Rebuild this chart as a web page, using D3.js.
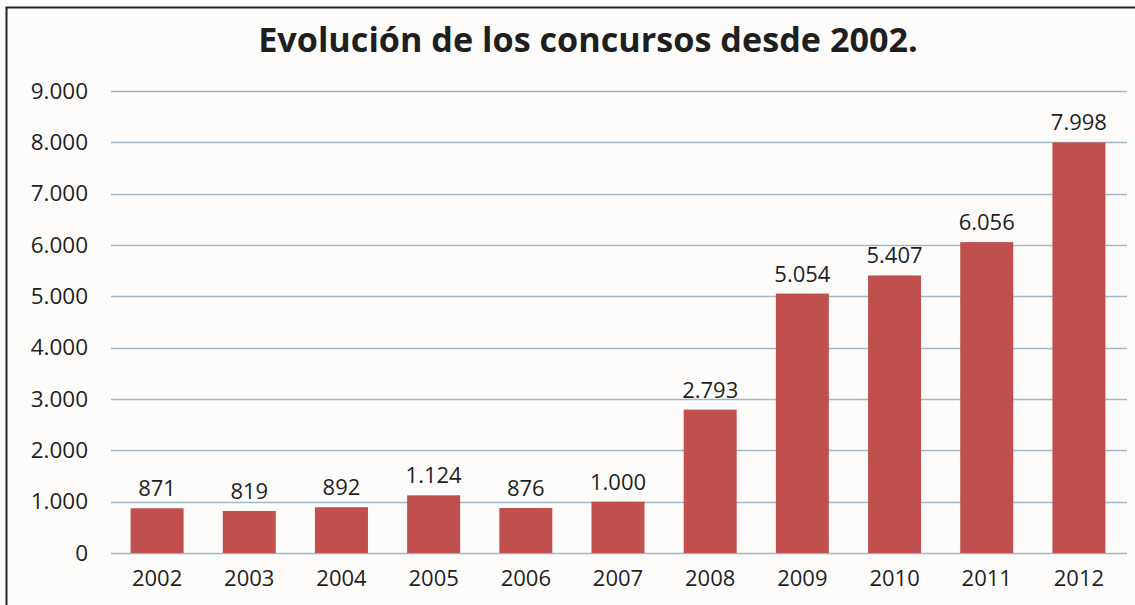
<!DOCTYPE html>
<html lang="es">
<head>
<meta charset="UTF-8">
<title>Evolución de los concursos desde 2002.</title>
<script src="https://d3js.org/d3.v7.min.js"></script>
<style>
    html, body { margin: 0; padding: 0; background: #fdfcfb; }
    svg { display: block; }
    text { font-family: "Open Sans", Arial, sans-serif; fill: #1f1f1f; }
</style>
</head>
<body>
<div id="chart"></div>
<script>
    const years = ["2002", "2003", "2004", "2005", "2006", "2007", "2008", "2009", "2010", "2011", "2012"];
    const concursos = [871, 819, 892, 1124, 876, 1000, 2793, 5054, 5407, 6056, 7998];
    const yTicks = [0, 1000, 2000, 3000, 4000, 5000, 6000, 7000, 8000, 9000];
    const title = "Evolución de los concursos desde 2002.";

    const width = 1135, height = 605;
    const margin = { top: 91, right: 10, bottom: 52, left: 111 };
    const fmt = d3.formatLocale({ decimal: ",", thousands: ".", grouping: [3], currency: ["", "€"] }).format(",d");

    const svg = d3.select("#chart").append("svg")
        .attr("width", width)
        .attr("height", height);

    svg.append("rect").attr("width", width).attr("height", height).attr("fill", "#fdfcfb");

    // marco (solo arriba e izquierda se ven)
    svg.append("path")
        .attr("d", `M6.5,${height} V7.5 H${width}`)
        .attr("fill", "none")
        .attr("stroke", "#222")
        .attr("stroke-width", 2);

    const x = d3.scaleBand()
        .domain(years)
        .range([margin.left, margin.left + 1014])
        .paddingInner(0.425)
        .paddingOuter(0.2125);

    const y = d3.scaleLinear()
        .domain([0, 9000])
        .range([553, margin.top]);

    // rejilla
    svg.append("g")
        .selectAll("line")
        .data(yTicks)
        .join("line")
        .attr("x1", margin.left)
        .attr("x2", margin.left + 1016)
        .attr("y1", d => Math.round(y(d)) + 0.5)
        .attr("y2", d => Math.round(y(d)) + 0.5)
        .attr("stroke", "#9fb8c8")
        .attr("stroke-width", 1.5);

    // eje Y
    const yAxis = svg.append("g")
        .attr("transform", `translate(${margin.left},0)`)
        .call(d3.axisLeft(y).tickValues(yTicks).tickFormat(fmt).tickSize(0).tickPadding(23));
    yAxis.select(".domain").remove();
    yAxis.selectAll("text")
        .style("font-family", "\"Open Sans\", Arial, sans-serif")
        .style("font-size", "22.5px")
        .attr("fill", "#222");

    // eje X
    const xAxis = svg.append("g")
        .attr("transform", `translate(0,553)`)
        .call(d3.axisBottom(x).tickSize(0).tickPadding(17));
    xAxis.select(".domain").remove();
    xAxis.selectAll("text")
        .style("font-family", "\"Open Sans\", Arial, sans-serif")
        .style("font-size", "22px")
        .attr("fill", "#222");

    // barras
    const data = years.map((yr, i) => ({ year: yr, value: concursos[i] }));
    svg.append("g")
        .selectAll("rect")
        .data(data)
        .join("rect")
        .attr("x", d => x(d.year))
        .attr("y", d => y(d.value))
        .attr("width", x.bandwidth())
        .attr("height", d => y(0) - y(d.value))
        .attr("fill", "#c0504d");

    // etiquetas de valor
    svg.append("g")
        .selectAll("text")
        .data(data)
        .join("text")
        .attr("x", d => x(d.year) + x.bandwidth() / 2)
        .attr("y", d => y(d.value) - 12)
        .attr("text-anchor", "middle")
        .style("font-size", "22px")
        .attr("fill", "#222")
        .text(d => fmt(d.value));

    // título
    const t = svg.append("text")
        .attr("x", 588)
        .attr("y", 52)
        .attr("text-anchor", "middle")
        .style("font-size", "31px")
        .style("font-weight", "bold")
        .attr("fill", "#000")
        .text(title);
    const w = t.node().getComputedTextLength();
    t.style("font-size", (31 * 660 / w).toFixed(1) + "px");
</script>
</body>
</html>
